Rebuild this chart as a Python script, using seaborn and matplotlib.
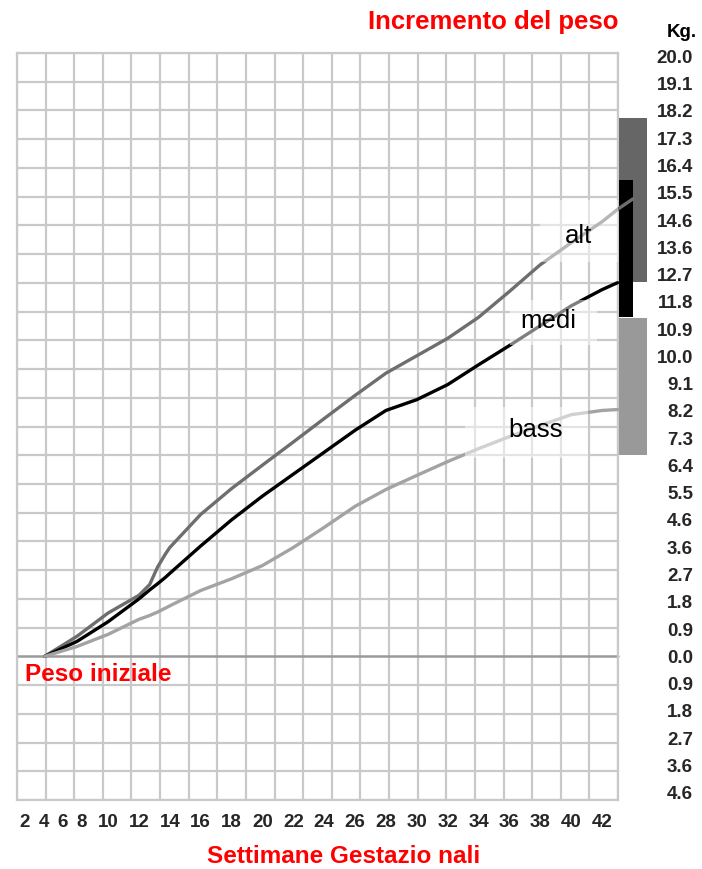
import numpy as np
import pandas as pd
import matplotlib
matplotlib.use("Agg")
import matplotlib.pyplot as plt
from matplotlib.patches import Rectangle
import seaborn as sns

# ---------------- data ----------------
weeks = [5.9, 8, 10, 12, 12.7, 13.2, 13.7, 14, 16, 18, 20, 22, 24, 26, 28, 30, 32, 34, 36, 38, 40, 42, 43]
alt_kg = [0.0, 0.67, 1.44, 2.03, 2.39, 2.96, 3.39, 3.62, 4.72, 5.58, 6.36, 7.13, 7.91, 8.68, 9.42,
          10.0, 10.58, 11.28, 12.14, 13.03, 13.76, 14.46, 14.87]
medi_kg = [0.0, 0.50, 1.15, 1.91, 2.21, 2.41, 2.62, 2.76, 3.67, 4.54, 5.33, 6.06, 6.79, 7.52, 8.18,
           8.54, 9.04, 9.70, 10.34, 11.0, 11.66, 12.2, 12.43]
bass_kg = [0.0, 0.33, 0.73, 1.23, 1.36, 1.47, 1.60, 1.68, 2.19, 2.58, 3.02, 3.62, 4.29, 4.99, 5.55,
           6.02, 6.48, 6.91, 7.31, 7.68, 8.04, 8.18, 8.21]
alt_end_week = 44.0
alt_end_kg = 15.22

week_labels = [2, 4, 6, 8, 10, 12, 14, 16, 18, 20, 22, 24, 26, 28, 30, 32, 34, 36, 38, 40, 42]
kg_labels = ["20.0", "19.1", "18.2", "17.3", "16.4", "15.5", "14.6", "13.6", "12.7", "11.8",
             "10.9", "10.0", "9.1", "8.2", "7.3", "6.4", "5.5", "4.6", "3.6", "2.7", "1.8",
             "0.9", "0.0", "0.9", "1.8", "2.7", "3.6", "4.6"]
kg_label_steps = list(range(22, -6, -1))   # label index -> multiples of 2 lb
LB2_KG = 0.9072

# recommended ranges (bars at right)
range_names = ["alt", "medi", "bass"]
range_low = [12.45, 11.30, 6.70]
range_high = [17.90, 15.85, 11.25]

series_names = ["alt", "medi", "bass"]

# ---------------- build long-form table ----------------
rows = []
for name, vals in zip(series_names, [alt_kg, medi_kg, bass_kg]):
    for w, v in zip(weeks, vals):
        rows.append({"settimana": w, "kg": v, "serie": name})
rows.append({"settimana": alt_end_week, "kg": alt_end_kg, "serie": "alt"})
df = pd.DataFrame(rows)

# ---------------- figure ----------------
sns.set_style("white")
plt.rcParams["font.family"] = ["Liberation Sans", "DejaVu Sans"]

W, H = 702, 869
fig = plt.figure(figsize=(W / 100, H / 100), dpi=100)
ax_l, ax_r, ax_t, ax_b = 17, 618, 53, 800
ax = fig.add_axes([ax_l / W, 1 - ax_b / H, (ax_r - ax_l) / W, (ax_b - ax_t) / H])

x0, x1 = 4.106, 43.03
grid_step_kg = 0.9558
y0, y1 = -5 * grid_step_kg, 21 * grid_step_kg
ax.set_xlim(x0, x1)
ax.set_ylim(y0, y1)

grid_col = "#c9c9c9"
ax.set_xticks(np.linspace(x0, x1, 22), minor=True)
ax.set_yticks(np.arange(-5, 22) * grid_step_kg, minor=True)
ax.grid(which="minor", color=grid_col, lw=1.6, zorder=0)
ax.grid(which="major", visible=False)
for sp in ax.spines.values():
    sp.set_color(grid_col)
    sp.set_linewidth(1.6)
ax.axhline(0, color="#9a9a9a", lw=1.8, zorder=1)

palette = {"alt": "#6e6e6e", "medi": "#000000", "bass": "#a3a3a3"}
sns.lineplot(data=df, x="settimana", y="kg", hue="serie", palette=palette,
             hue_order=series_names, lw=2.4, legend=False, ax=ax, zorder=4,
             sort=True, estimator=None)
for ln in ax.get_lines():
    ln.set_clip_on(False)
    ln.set_solid_capstyle("round")
    ln.set_solid_joinstyle("round")

# range bars at right
bar_x = [43.10, 43.10, 43.10]
bar_w = [1.80, 0.90, 1.80]
bar_c = {"alt": "#666666", "medi": "#000000", "bass": "#999999"}
for i in [0, 2, 1]:
    b = ax.bar(bar_x[i], range_high[i] - range_low[i], width=bar_w[i], bottom=range_low[i],
               align="edge", color=bar_c[range_names[i]], lw=0, zorder=3)
    for p in b.patches:
        p.set_clip_on(False)

# series labels, each on a faded background panel
lab_fs = 18.5
labels_pos = {"alt": (39.6, 13.76), "medi": (36.68, 10.93), "bass": (35.9, 7.31)}
fade_boxes = {"alt": (37.98, 43.03, 13.13, 15.19),
              "medi": (36.04, 41.70, 10.37, 11.86),
              "bass": (33.13, 41.06, 6.61, 8.28)}
for name in series_names:
    bx0, bx1, by0, by1 = fade_boxes[name]
    ax.add_patch(Rectangle((bx0, by0), bx1 - bx0, by1 - by0, fc="white", ec="none",
                           alpha=0.5, zorder=5))
    lx, ly = labels_pos[name]
    ax.text(lx, ly, name, ha="left", va="baseline", fontsize=lab_fs, color="black", zorder=6)

# x ticks (labels squeezed on the left as in the original)
xtick_pos = [w if w >= 10 else 4.62 + (w - 2) * 0.617 for w in week_labels]
ax.set_xticks(xtick_pos)
ax.set_xticklabels([str(w) for w in week_labels])
ax.tick_params(axis="x", length=0, pad=10, labelsize=13.5)
for t in ax.get_xticklabels():
    t.set_fontweight("bold")

# y tick labels on the right
ax.yaxis.tick_right()
ax.set_yticks([s * LB2_KG for s in kg_label_steps])
ax.set_yticklabels(kg_labels)
ax.tick_params(axis="y", length=0, pad=54, labelsize=13.5)
for t in ax.get_yticklabels():
    t.set_fontweight("bold")
    t.set_horizontalalignment("right")
ax.tick_params(which="minor", length=0)
ax.set_xlabel("")
ax.set_ylabel("")

red = "#ff0000"
fig.text(ax_r / W, 1 - 29 / H, "Incremento del peso", ha="right", va="baseline",
         color=red, fontsize=18.5, fontweight="bold")
fig.text(697 / W, 1 - 37 / H, "Kg.", ha="right", va="baseline",
         color="black", fontsize=13.5, fontweight="bold")
fig.text(344 / W, 1 - 863 / H, "Settimane Gestazio nali", ha="center", va="baseline",
         color=red, fontsize=17.5, fontweight="bold")
ax.text((25 - ax_l) / (ax_r - ax_l), (ax_b - 681) / (ax_b - ax_t), "Peso iniziale",
        transform=ax.transAxes, ha="left", va="baseline", color=red, fontsize=17.5,
        fontweight="bold", zorder=6)

fig.savefig("out.png", dpi=100)
